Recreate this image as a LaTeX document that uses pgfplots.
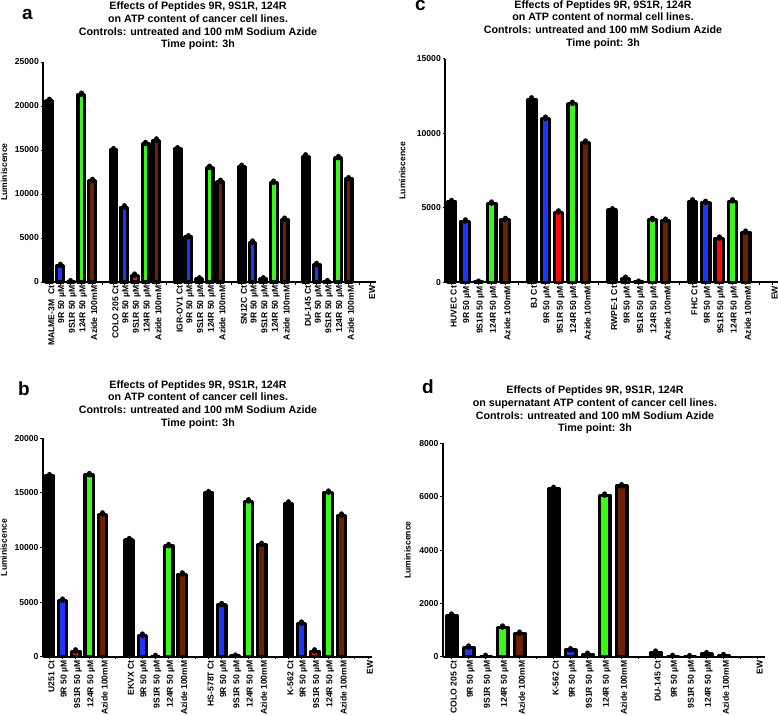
\documentclass[border=0pt]{standalone}
\usepackage{fontspec}
\setmainfont{Liberation Sans}
\usepackage{pgfplots}
\pgfplotsset{compat=1.18}
\definecolor{cblue}{RGB}{25,55,255}
\definecolor{cred}{RGB}{255,10,10}
\definecolor{cgreen}{RGB}{55,250,25}
\definecolor{cbrown}{RGB}{110,32,5}
\newcommand{\lR}{9R 50 µM}
\newcommand{\lS}{9S1R 50 µM}
\newcommand{\lT}{124R 50 µM}
\newcommand{\lA}{Azide 100mM}
\pgfplotsset{
  mybar/.style={ybar, bar shift=0pt, bar width=0.62, fill=#1, draw=black, line width=3.3pt, line join=round,
    error bars/.cd, y dir=plus, y explicit, error mark=none,
    error bar style={line width=5pt, line cap=round, black}},
  panel/.style={scale only axis, anchor=south west, ymin=0,
    axis x line*=bottom, axis y line*=left,
    axis line style={line width=1.8pt},
    tick style={line width=1pt, black}, major tick length=2.5pt, tick align=outside,
    scaled y ticks=false,
    ticklabel style={font=\fontsize{8.6}{9}\selectfont\bfseries},
    yticklabel style={/pgf/number format/1000 sep={}, /pgf/number format/assume math mode=true, inner sep=1.5pt},
    xticklabel style={rotate=90, anchor=east, inner sep=1pt, yshift=-2pt},
    ylabel={Luminiscence},
    ylabel style={font=\fontsize{8.6}{9}\selectfont\bfseries, anchor=center},
    clip=false},
}
\begin{document}
\begin{tikzpicture}
\path[use as bounding box] (0pt,0pt) rectangle (778pt,-714pt);
% ---------------- panel a
\begin{axis}[panel, at={(43pt,-282pt)}, width=333pt, height=220pt,
  xmin=-0.59, xmax=30.55, ymax=25000, ytick={0,5000,...,25000},
  ylabel style={at={(axis description cs:-0.117,0.5)}},
  xtick={0,...,30},
  xticklabels={MALME-3M\ \ Ct,\lR,\lS,\lT,\lA,{},COLO 205 Ct,\lR,\lS,\lT,\lA,{},IGR-OV1 Ct,\lR,\lS,\lT,\lA,{},SN12C Ct,\lR,\lS,\lT,\lA,{},DU-145 Ct,\lR,\lS,\lT,\lA,{},EW}]
\addplot[mybar=black] coordinates {(0,20600) +- (0,180) (6,15000) +- (0,180) (12,15100) +- (0,180) (18,13100) +- (0,180) (24,14300) +- (0,180)};
\addplot[mybar=cblue] coordinates {(1,1850) +- (0,180) (7,8500) +- (0,180) (13,5100) +- (0,180) (19,4500) +- (0,180) (25,1950) +- (0,180)};
\addplot[mybar=cred] coordinates {(2,80) +- (0,100) (8,750) +- (0,180) (14,350) +- (0,150) (20,350) +- (0,150) (26,80) +- (0,100)};
\addplot[mybar=cgreen] coordinates {(3,21300) +- (0,180) (9,15700) +- (0,180) (15,13000) +- (0,180) (21,11300) +- (0,180) (27,14100) +- (0,180)};
\addplot[mybar=cbrown] coordinates {(4,11500) +- (0,180) (10,16100) +- (0,180) (16,11400) +- (0,180) (22,7100) +- (0,180) (28,11700) +- (0,180)};
\end{axis}
% ---------------- panel c
\begin{axis}[panel, at={(445pt,-282.3pt)}, width=333pt, height=223.3pt,
  xmin=-0.5, xmax=24.4, ymax=15000, ytick={0,5000,...,15000},
  ylabel style={at={(axis description cs:-0.128,0.5)}},
  xtick={0,...,24},
  xticklabels={HUVEC Ct,\lR,\lS,\lT,\lA,{},BJ Ct,\lR,\lS,\lT,\lA,{},RWPE-1 Ct,\lR,\lS,\lT,\lA,{},FHC Ct,\lR,\lS,\lT,\lA,{},EW}]
\addplot[mybar=black] coordinates {(0,5400) +- (0,108) (6,12300) +- (0,108) (12,4850) +- (0,108) (18,5450) +- (0,108)};
\addplot[mybar=cblue] coordinates {(1,4100) +- (0,108) (7,11000) +- (0,108) (13,250) +- (0,108) (19,5350) +- (0,108)};
\addplot[mybar=cred] coordinates {(2,30) +- (0,60) (8,4700) +- (0,108) (14,30) +- (0,60) (20,2950) +- (0,108)};
\addplot[mybar=cgreen] coordinates {(3,5300) +- (0,108) (9,12000) +- (0,108) (15,4200) +- (0,108) (21,5450) +- (0,108)};
\addplot[mybar=cbrown] coordinates {(4,4200) +- (0,108) (10,9400) +- (0,108) (16,4150) +- (0,108) (22,3350) +- (0,108)};
\end{axis}
% ---------------- panel b
\begin{axis}[panel, at={(42.7pt,-656.7pt)}, width=329.3pt, height=218.3pt,
  xmin=-0.5, xmax=24.3, ymax=20000, ytick={0,5000,...,20000},
  ylabel style={at={(axis description cs:-0.118,0.5)}},
  xtick={0,...,24},
  xticklabels={U251 Ct,\lR,\lS,\lT,\lA,{},EKVX Ct,\lR,\lS,\lT,\lA,{},HS-578T Ct,\lR,\lS,\lT,\lA,{},K-562 Ct,\lR,\lS,\lT,\lA,{},EW}]
\addplot[mybar=black] coordinates {(0,16550) +- (0,147) (6,10700) +- (0,147) (12,15000) +- (0,147) (18,14050) +- (0,147)};
\addplot[mybar=cblue] coordinates {(1,5150) +- (0,147) (7,1950) +- (0,147) (13,4750) +- (0,147) (19,3050) +- (0,147)};
\addplot[mybar=cred] coordinates {(2,500) +- (0,147) (8,50) +- (0,90) (14,80) +- (0,90) (20,500) +- (0,147)};
\addplot[mybar=cgreen] coordinates {(3,16650) +- (0,147) (9,10150) +- (0,147) (15,14250) +- (0,147) (21,15050) +- (0,147)};
\addplot[mybar=cbrown] coordinates {(4,13050) +- (0,147) (10,7550) +- (0,147) (16,10250) +- (0,147) (22,12950) +- (0,147)};
\end{axis}
% ---------------- panel d
\begin{axis}[panel, at={(442.7pt,-656.7pt)}, width=322.3pt, height=213.3pt,
  xmin=-0.53, xmax=18.43, ymax=8000, ytick={0,2000,...,8000},
  ylabel style={at={(axis description cs:-0.109,0.5)}},
  xtick={0,...,18},
  xticklabels={COLO 205 Ct,\lR,\lS,\lT,\lA,{},K-562 Ct,\lR,\lS,\lT,\lA,{},DU-145 Ct,\lR,\lS,\lT,\lA,{},EW}]
\addplot[mybar=black] coordinates {(0,1550) +- (0,60) (6,6300) +- (0,60) (12,160) +- (0,60)};
\addplot[mybar=cblue] coordinates {(1,350) +- (0,60) (7,250) +- (0,60) (13,20) +- (0,40)};
\addplot[mybar=cred] coordinates {(2,20) +- (0,40) (8,80) +- (0,60) (14,10) +- (0,40)};
\addplot[mybar=cgreen] coordinates {(3,1100) +- (0,60) (9,6050) +- (0,60) (15,100) +- (0,60)};
\addplot[mybar=cbrown] coordinates {(4,870) +- (0,60) (10,6400) +- (0,60) (16,50) +- (0,40)};
\end{axis}
% ---------------- titles and panel letters
\begin{scope}[every node/.style={align=center, font=\fontsize{10.7}{12.7}\selectfont\bfseries}]
\node at (198pt,-26pt) {Effects of Peptides 9R, 9S1R, 124R\\on ATP content of cancer cell lines.\\Controls: untreated and 100 mM Sodium Azide\\Time point: 3h};
\node at (603pt,-24.4pt) {Effects of Peptides 9R, 9S1R, 124R\\on ATP content of normal cell lines.\\Controls: untreated and 100 mM Sodium Azide\\Time point: 3h};
\node at (198pt,-404.5pt) {Effects of Peptides 9R, 9S1R, 124R\\on ATP content of cancer cell lines.\\Controls: untreated and 100 mM Sodium Azide\\Time point: 3h};
\node at (595pt,-410pt) {Effects of Peptides 9R, 9S1R, 124R\\on supernatant ATP content of cancer cell lines.\\Controls: untreated and 100 mM Sodium Azide\\Time point: 3h};
\end{scope}
\begin{scope}[every node/.style={anchor=base west, inner sep=0pt, font=\fontsize{19}{19}\selectfont\bfseries}]
\node at (22pt,-20pt) {a};
\node at (415pt,-11pt) {c};
\node at (18pt,-395pt) {b};
\node at (422pt,-393pt) {d};
\end{scope}
\end{tikzpicture}
\end{document}
